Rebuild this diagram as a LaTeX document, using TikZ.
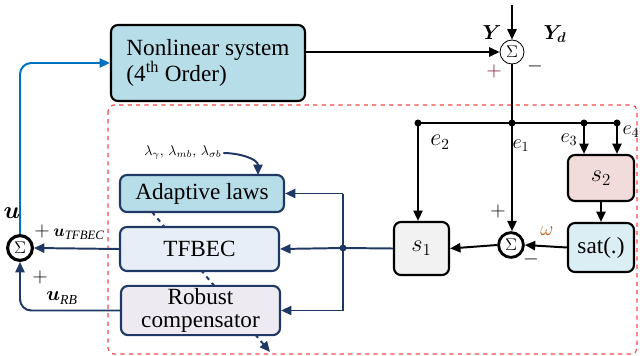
\documentclass[tikz,border=0pt]{standalone}
\usepackage{fontspec}
\setmainfont{Liberation Serif}
\usepackage{amsmath}
\usepackage{bm}
\usetikzlibrary{arrows.meta,positioning,calc}
\definecolor{navy}{RGB}{32,56,100}
\definecolor{lblue}{RGB}{0,112,192}
\definecolor{nlsfill}{RGB}{183,221,232}
\definecolor{adfill}{RGB}{183,221,232}
\definecolor{tffill}{RGB}{232,238,247}
\definecolor{rbfill}{RGB}{238,234,242}
\definecolor{sonefill}{RGB}{242,242,242}
\definecolor{stwofill}{RGB}{242,220,219}
\definecolor{satfill}{RGB}{218,238,243}
\definecolor{redbox}{RGB}{250,70,70}
\definecolor{plusred}{RGB}{120,20,50}
\definecolor{omegac}{RGB}{190,90,20}
\tikzset{
  block/.style={draw=black, line width=1.5pt, rounded corners=5pt, align=center,
    inner sep=2pt, font=\fontsize{16.5}{18}\selectfont},
  navyblock/.style={block, draw=navy},
  sumnode/.style={draw=black, circle, fill=white, inner sep=0pt, font=\fontsize{13}{13}\selectfont},
  arr/.style={-{Triangle[length=2.6mm,width=2.3mm]}, line width=1.4pt},
  narr/.style={arr, draw=navy},
  barr/.style={arr, draw=lblue},
  dot/.style={circle, fill=#1, inner sep=0pt, minimum size=5pt},
  dot/.default=black,
  lbl/.style={inner sep=1pt, font=\fontsize{14}{14}\selectfont}
}
\begin{document}
\begin{tikzpicture}[x=0.025cm, y=-0.025cm]
  \useasboundingbox (0,0) rectangle (640,356);

  % controller region
  \draw[redbox, dashed, line width=0.8pt, rounded corners=4pt] (108,105) rectangle (637,354);

  % adaptation arrow behind the blocks
  \coordinate (dgs) at (152,212);
  \coordinate (dge) at (270,352);
  \draw[narr, dashed] (dgs) -- (dge);

  % blocks
  \node[block, fill=nlsfill, align=left, minimum width=4.85cm, minimum height=1.9cm] (nls) at (208,63)
    {Nonlinear system\\(4\textsuperscript{th} Order)};
  \node[navyblock, fill=adfill, minimum width=4.1cm, minimum height=0.925cm] (adapt) at (202,193.5) {Adaptive laws};
  \node[navyblock, fill=tffill, minimum width=3.975cm, minimum height=1.1cm] (tfbec) at (199.5,249) {TFBEC};
  \node[navyblock, fill=rbfill, minimum width=3.975cm, minimum height=1.175cm, font=\fontsize{16.5}{16}\selectfont] (robust) at (200.5,310.5) {Robust\\compensator};
  \node[block, fill=sonefill, minimum width=1.375cm, minimum height=1.325cm] (s1) at (421.5,248.5) {$s_1$};
  \node[block, fill=stwofill, minimum width=1.65cm, minimum height=1.15cm] (s2) at (601,178) {$s_2$};
  \node[block, fill=satfill, minimum width=1.65cm, minimum height=1.225cm] (sat) at (601,247.5) {sat(.)};

  % summing junctions
  \node[sumnode, line width=0.6pt, minimum size=0.6cm] (sumY) at (512,52) {$\Sigma$};
  \node[sumnode, line width=2pt, minimum size=0.62cm] (sumW) at (511,245) {$\Sigma$};
  \node[sumnode, line width=2.2pt, minimum size=0.62cm] (sumU) at (20,248) {$\Sigma$};

  % error branches
  \coordinate (ytop) at (512,5);
  \coordinate (j1) at (512,123);
  \coordinate (j2) at (418,123);
  \coordinate (j3) at (584,123);
  \coordinate (j4) at (617,123);
  \draw[arr] (ytop) -- (sumY.north);
  \draw[arr] (nls.east |- sumY) -- (sumY.west);
  \draw[line width=1.4pt] (sumY.south) -- (j1);
  \draw[line width=1.4pt] (j2) -- (j4);
  \foreach \j in {j1,j2,j3,j4} \node[dot] at (\j) {};
  \draw[arr] (j2) -- (j2 |- s1.north);
  \draw[arr] (j1) -- (j1 |- sumW.north);
  \draw[arr] (j3) -- (j3 |- s2.north);
  \draw[arr] (j4) -- (j4 |- s2.north);
  \draw[arr] (s2.south) -- (sat.north);
  \draw[arr] (sat.west) -- (sumW.east);
  \draw[arr] (sumW.west) -- (s1.east);

  % distribution to the controller blocks
  \coordinate (jb) at (343,248);
  \draw[navy, line width=1.4pt] (s1.west) -- (jb);
  \draw[navy, line width=1.4pt] (jb |- adapt.east) -- (jb |- robust.east);
  \node[dot=navy] at (jb) {};
  \draw[narr] (jb |- adapt.east) -- (adapt.east);
  \draw[narr] (jb) -- (tfbec.east);
  \draw[narr] (jb |- robust.east) -- (robust.east);

  % control signal
  \draw[narr] (tfbec.west) -- (sumU.east);
  \draw[narr, rounded corners=8pt] (robust.west) -| (sumU.south);
  \draw[barr, rounded corners=8pt] (sumU.north) |- (nls.west);

  % adaptation gains
  \node[lbl, font=\fontsize{10}{10}\selectfont] (lam) at (183,153) {$\lambda_\gamma,\,\lambda_{mb},\,\lambda_{\sigma b}$};
  \coordinate (lamend) at (258,175);
  \draw[narr] (lam.east) to[out=0, in=90] (lamend);

  % labels
  \node[lbl] at (492,33) {$\bm{Y}$};
  \node[lbl] at (555,34) {$\bm{Y_d}$};
  \node[lbl, text=plusred] at (494,71) {$+$};
  \node[lbl] at (535,66) {$-$};
  \node[lbl, font=\fontsize{16}{16}\selectfont] at (440,142) {$e_2$};
  \node[lbl] at (521,146) {$e_1$};
  \node[lbl] at (569,140) {$e_3$};
  \node[lbl] at (631,132) {$e_4$};
  \node[lbl] at (498,211) {$+$};
  \node[lbl, text=omegac] at (547,231) {$\omega$};
  \node[lbl] at (531,259) {$-$};
  \node[lbl, font=\fontsize{17}{17}\selectfont] at (12,213) {$\bm{u}$};
  \node[lbl] at (42,231) {$+$};
  \node[lbl, font=\fontsize{13}{13}\selectfont] at (79,234) {$\bm{u}_{\mathit{TFBEC}}$};
  \node[lbl] at (40,277) {$+$};
  \node[lbl] at (62,298) {$\bm{u}_{\mathit{RB}}$};
\end{tikzpicture}
\end{document}
